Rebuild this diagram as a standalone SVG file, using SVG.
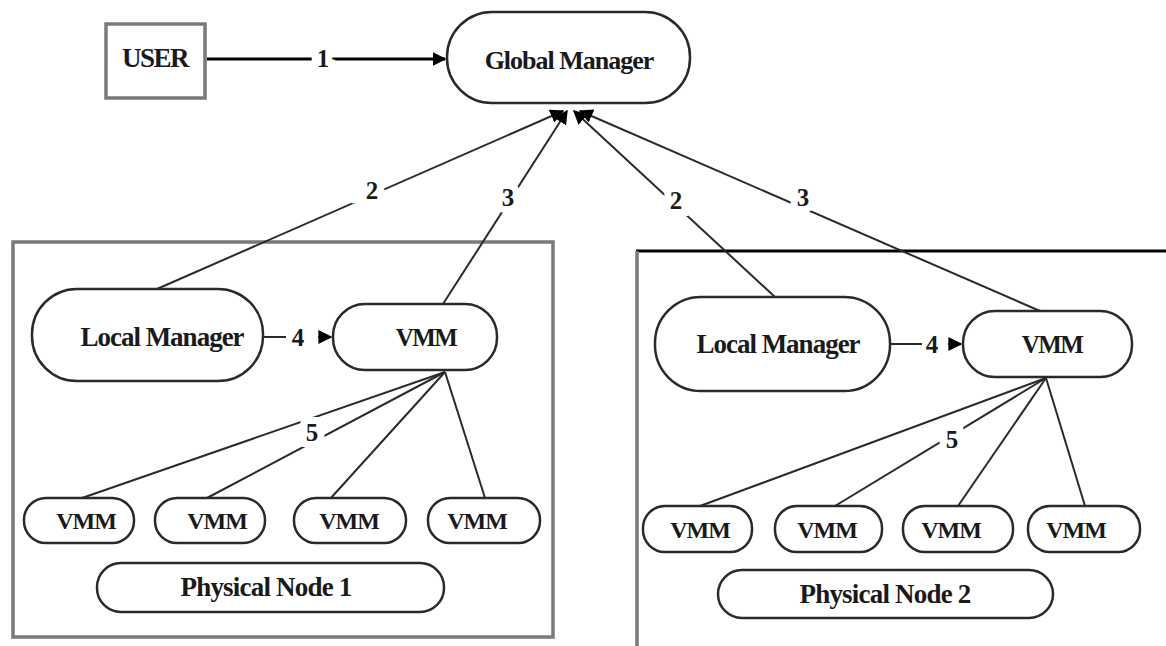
<svg xmlns="http://www.w3.org/2000/svg" width="1166" height="646" viewBox="0 0 1166 646">
<style>
text{font-family:"Liberation Serif","Times New Roman",serif;font-weight:bold;fill:#1a1a1a;text-anchor:middle}
.t{font-size:26px;letter-spacing:-1px}
.tv{font-size:25px;letter-spacing:-1.5px}
.ts{font-size:24px;letter-spacing:-1px}
.tp{font-size:27px;letter-spacing:-0.8px}
.lbl{font-size:25px;stroke:#fff;stroke-width:14px;paint-order:stroke}
.lbl4{font-size:25px;stroke:#fff;stroke-width:7px;paint-order:stroke}
.pill{fill:#fff;stroke:#2a2a2a;stroke-width:2.5}
.box{fill:none;stroke:#7a7a7a;stroke-width:3.5}
.c{stroke:#2a2a2a;stroke-width:2;fill:none}
.c1{stroke:#000;stroke-width:3;fill:none}
</style>
<defs>
<marker id="ah" viewBox="0 0 10 10" refX="9" refY="5" markerWidth="7" markerHeight="7" orient="auto" markerUnits="strokeWidth"><path d="M0,0 L10,5 L0,10 z" fill="#000"/></marker>
<marker id="ah1" viewBox="0 0 10 10" refX="9" refY="5" markerWidth="4.5" markerHeight="4.5" orient="auto" markerUnits="strokeWidth"><path d="M0,0 L10,5 L0,10 z" fill="#000"/></marker>
</defs>

<g id="physical-node-1-frame"><rect class="box" x="13" y="242" width="540" height="395"/></g>
<g id="physical-node-2-frame">
<line x1="636" y1="251" x2="1166" y2="251" stroke="#000" stroke-width="3"/>
<line x1="637" y1="251" x2="637" y2="646" stroke="#7a7a7a" stroke-width="3.5"/>
</g>

<g id="connectors">
<line class="c1" x1="207" y1="59" x2="445" y2="59" marker-end="url(#ah1)"/>
<line class="c" x1="157" y1="289" x2="563" y2="111" marker-end="url(#ah)"/>
<line class="c" x1="443" y1="304" x2="567" y2="111" marker-end="url(#ah)"/>
<line class="c" x1="775" y1="297" x2="574" y2="111" marker-end="url(#ah)"/>
<line class="c" x1="1040" y1="311" x2="580" y2="111" marker-end="url(#ah)"/>
<line class="c" x1="445" y1="372" x2="82" y2="498"/>
<line class="c" x1="445" y1="372" x2="207" y2="498"/>
<line class="c" x1="445" y1="372" x2="330" y2="499"/>
<line class="c" x1="445" y1="372" x2="485" y2="498"/>
<line class="c" x1="1046" y1="378" x2="700" y2="506"/>
<line class="c" x1="1046" y1="378" x2="835" y2="506"/>
<line class="c" x1="1046" y1="378" x2="958" y2="506"/>
<line class="c" x1="1046" y1="378" x2="1085" y2="506"/>
<text class="lbl" x="323" y="67">1</text>
<text class="lbl" x="372" y="199">2</text>
<text class="lbl" x="508" y="206">3</text>
<text class="lbl" x="676" y="209">2</text>
<text class="lbl" x="803" y="206">3</text>
<text class="lbl" x="312" y="441">5</text>
<text class="lbl" x="952" y="448">5</text>
<line class="c" x1="264" y1="337" x2="286" y2="337"/>
<line class="c" x1="318" y1="337" x2="331" y2="337" marker-end="url(#ah)"/>
<text class="lbl4" x="298" y="346">4</text>
<line class="c" x1="890" y1="344" x2="922" y2="344"/>
<line class="c" x1="948" y1="344" x2="961" y2="344" marker-end="url(#ah)"/>
<text class="lbl4" x="932" y="353">4</text>
</g>

<g id="user"><rect x="106" y="24" width="99" height="74" fill="#fff" stroke="#7a7a7a" stroke-width="3.5"/><text class="t" x="155" y="67" style="font-size:27px;letter-spacing:-1.5px">USER</text></g>
<g id="global-manager"><rect class="pill" x="447" y="12" width="243" height="91" rx="45"/><text class="t" x="569" y="69">Global Manager</text></g>

<g id="local-manager-1"><rect class="pill" x="32" y="289" width="231" height="92" rx="45"/><text class="t" x="162" y="346" style="font-size:27px">Local Manager</text></g>
<g id="vmm-1"><rect class="pill" x="333" y="304" width="164" height="66" rx="32"/><text class="tv" x="426" y="346">VMM</text></g>
<g id="vmm-1a"><rect class="pill" x="24" y="498" width="110" height="45" rx="22"/><text class="ts" x="86" y="529">VMM</text></g>
<g id="vmm-1b"><rect class="pill" x="155" y="498" width="110" height="45" rx="22"/><text class="ts" x="217" y="529">VMM</text></g>
<g id="vmm-1c"><rect class="pill" x="294" y="498" width="112" height="45" rx="22"/><text class="ts" x="349" y="529">VMM</text></g>
<g id="vmm-1d"><rect class="pill" x="428" y="498" width="112" height="45" rx="22"/><text class="ts" x="477" y="529">VMM</text></g>
<g id="physical-node-1"><rect class="pill" x="97" y="563" width="347" height="49" rx="24"/><text class="tp" x="266" y="596">Physical Node 1</text></g>

<g id="local-manager-2"><rect class="pill" x="655" y="297" width="235" height="94" rx="46"/><text class="t" x="778" y="353" style="font-size:27px">Local Manager</text></g>
<g id="vmm-2"><rect class="pill" x="963" y="311" width="169" height="66" rx="32"/><text class="tv" x="1052" y="353">VMM</text></g>
<g id="vmm-2a"><rect class="pill" x="643" y="506" width="109" height="46" rx="22"/><text class="ts" x="700" y="538">VMM</text></g>
<g id="vmm-2b"><rect class="pill" x="775" y="506" width="107" height="46" rx="22"/><text class="ts" x="827" y="538">VMM</text></g>
<g id="vmm-2c"><rect class="pill" x="903" y="506" width="110" height="46" rx="22"/><text class="ts" x="951" y="538">VMM</text></g>
<g id="vmm-2d"><rect class="pill" x="1028" y="506" width="112" height="46" rx="22"/><text class="ts" x="1076" y="538">VMM</text></g>
<g id="physical-node-2"><rect class="pill" x="718" y="570" width="335" height="48" rx="24"/><text class="tp" x="885" y="603">Physical Node 2</text></g>
</svg>
